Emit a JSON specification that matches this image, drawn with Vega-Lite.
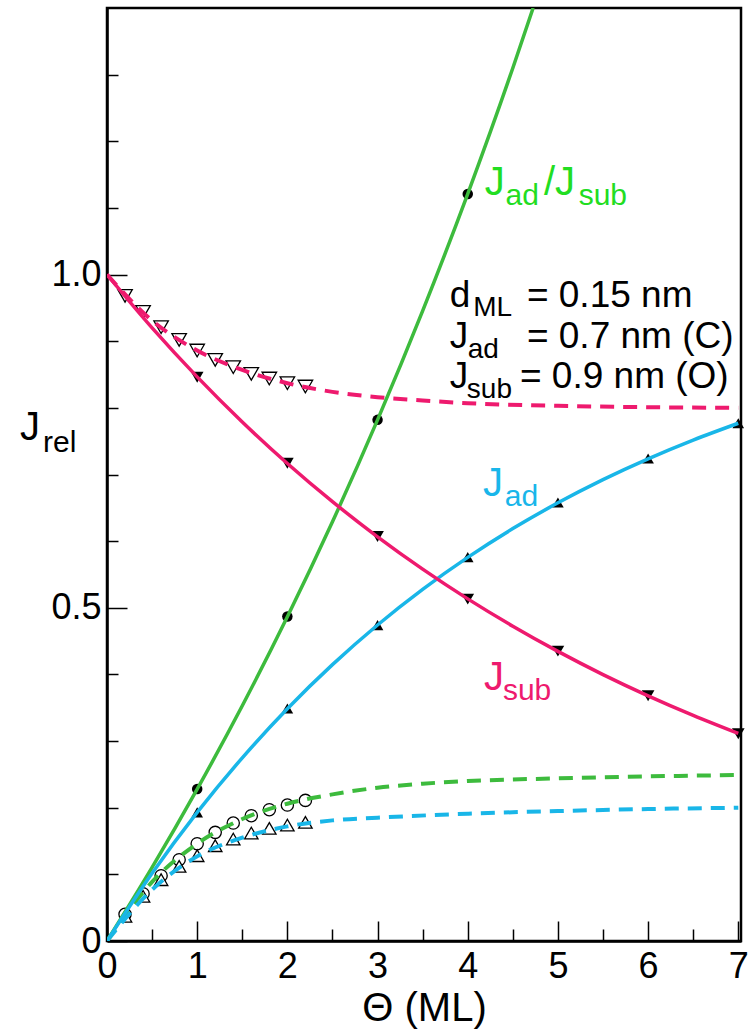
{
  "$schema": "https://vega.github.io/schema/vega-lite/v6.json",
  "width": 634,
  "height": 933,
  "autosize": {"type": "none"},
  "padding": {"left": 107, "top": 8, "right": 13, "bottom": 92},
  "background": "white",
  "config": {"view": {"stroke": "black", "strokeWidth": 2.5}, "font": "Liberation Sans"},
  "resolve": {"axis": {"x": "independent", "y": "independent"}, "scale": {"color": "independent", "size": "independent"}},
  "datasets": {
    "curves": [
      {"x": 0, "y": 0, "c": "ratio"}, {"x": 0.5, "y": 0.1104, "c": "ratio"}, {"x": 1, "y": 0.2279, "c": "ratio"}, {"x": 1.5, "y": 0.353, "c": "ratio"}, {"x": 2, "y": 0.4865, "c": "ratio"}, {"x": 2.5, "y": 0.6291, "c": "ratio"}, {"x": 3, "y": 0.7819, "c": "ratio"}, {"x": 3.5, "y": 0.9455, "c": "ratio"}, {"x": 4, "y": 1.1212, "c": "ratio"}, {"x": 4.5, "y": 1.31, "c": "ratio"}, {"x": 4.725, "y": 1.4, "c": "ratio"},
      {"x": 0, "y": 0, "c": "ad"}, {"x": 0.5, "y": 0.1016, "c": "ad"}, {"x": 1, "y": 0.1929, "c": "ad"}, {"x": 1.5, "y": 0.2749, "c": "ad"}, {"x": 2, "y": 0.3486, "c": "ad"}, {"x": 2.5, "y": 0.4147, "c": "ad"}, {"x": 3, "y": 0.4742, "c": "ad"}, {"x": 3.5, "y": 0.5276, "c": "ad"}, {"x": 4, "y": 0.5756, "c": "ad"}, {"x": 4.5, "y": 0.6188, "c": "ad"}, {"x": 5, "y": 0.6575, "c": "ad"}, {"x": 5.5, "y": 0.6923, "c": "ad"}, {"x": 6, "y": 0.7235, "c": "ad"}, {"x": 6.5, "y": 0.7516, "c": "ad"}, {"x": 7, "y": 0.7769, "c": "ad"},
      {"x": 0, "y": 1, "c": "sub"}, {"x": 0.5, "y": 0.92, "c": "sub"}, {"x": 1, "y": 0.8465, "c": "sub"}, {"x": 1.5, "y": 0.7788, "c": "sub"}, {"x": 2, "y": 0.7165, "c": "sub"}, {"x": 2.5, "y": 0.6592, "c": "sub"}, {"x": 3, "y": 0.6065, "c": "sub"}, {"x": 3.5, "y": 0.558, "c": "sub"}, {"x": 4, "y": 0.5134, "c": "sub"}, {"x": 4.5, "y": 0.4724, "c": "sub"}, {"x": 5, "y": 0.4346, "c": "sub"}, {"x": 5.5, "y": 0.3998, "c": "sub"}, {"x": 6, "y": 0.3679, "c": "sub"}, {"x": 6.5, "y": 0.3385, "c": "sub"}, {"x": 7, "y": 0.3114, "c": "sub"}
    ],
    "dashed": [
      {"x": 0, "y": 1, "c": "sub"}, {"x": 0.5, "y": 0.931, "c": "sub"}, {"x": 1, "y": 0.886, "c": "sub"}, {"x": 1.5, "y": 0.857, "c": "sub"}, {"x": 2, "y": 0.837, "c": "sub"}, {"x": 2.5, "y": 0.824, "c": "sub"}, {"x": 3, "y": 0.816, "c": "sub"}, {"x": 3.5, "y": 0.811, "c": "sub"}, {"x": 4, "y": 0.807, "c": "sub"}, {"x": 5, "y": 0.803, "c": "sub"}, {"x": 6, "y": 0.801, "c": "sub"}, {"x": 7, "y": 0.8, "c": "sub"},
      {"x": 0, "y": 0, "c": "ratio"}, {"x": 0.5, "y": 0.0888, "c": "ratio"}, {"x": 1, "y": 0.146, "c": "ratio"}, {"x": 1.5, "y": 0.183, "c": "ratio"}, {"x": 2, "y": 0.206, "c": "ratio"}, {"x": 2.5, "y": 0.22, "c": "ratio"}, {"x": 3, "y": 0.23, "c": "ratio"}, {"x": 3.5, "y": 0.236, "c": "ratio"}, {"x": 4, "y": 0.24, "c": "ratio"}, {"x": 5, "y": 0.244, "c": "ratio"}, {"x": 6, "y": 0.247, "c": "ratio"}, {"x": 7, "y": 0.249, "c": "ratio"},
      {"x": 0, "y": 0, "c": "ad"}, {"x": 0.5, "y": 0.077, "c": "ad"}, {"x": 1, "y": 0.127, "c": "ad"}, {"x": 1.5, "y": 0.155, "c": "ad"}, {"x": 2, "y": 0.172, "c": "ad"}, {"x": 2.5, "y": 0.181, "c": "ad"}, {"x": 3, "y": 0.185, "c": "ad"}, {"x": 4, "y": 0.191, "c": "ad"}, {"x": 5, "y": 0.195, "c": "ad"}, {"x": 6, "y": 0.198, "c": "ad"}, {"x": 7, "y": 0.2, "c": "ad"}
    ],
    "filled": [
      {"x": 1, "y": 0.228, "c": "ratio"}, {"x": 2, "y": 0.487, "c": "ratio"}, {"x": 3, "y": 0.782, "c": "ratio"}, {"x": 4, "y": 1.121, "c": "ratio"},
      {"x": 1, "y": 0.193, "c": "ad"}, {"x": 2, "y": 0.349, "c": "ad"}, {"x": 3, "y": 0.474, "c": "ad"}, {"x": 4, "y": 0.576, "c": "ad"}, {"x": 5, "y": 0.658, "c": "ad"}, {"x": 6, "y": 0.724, "c": "ad"}, {"x": 7, "y": 0.777, "c": "ad"},
      {"x": 1, "y": 0.846, "c": "sub"}, {"x": 2, "y": 0.717, "c": "sub"}, {"x": 3, "y": 0.607, "c": "sub"}, {"x": 4, "y": 0.513, "c": "sub"}, {"x": 5, "y": 0.435, "c": "sub"}, {"x": 6, "y": 0.368, "c": "sub"}, {"x": 7, "y": 0.311, "c": "sub"}
    ],
    "open": [
      {"x": 0.2, "y": 0.04, "c": "ratio"}, {"x": 0.4, "y": 0.071, "c": "ratio"}, {"x": 0.6, "y": 0.098, "c": "ratio"}, {"x": 0.8, "y": 0.122, "c": "ratio"}, {"x": 1.0, "y": 0.146, "c": "ratio"}, {"x": 1.2, "y": 0.163, "c": "ratio"}, {"x": 1.4, "y": 0.177, "c": "ratio"}, {"x": 1.6, "y": 0.188, "c": "ratio"}, {"x": 1.8, "y": 0.197, "c": "ratio"}, {"x": 2.0, "y": 0.204, "c": "ratio"}, {"x": 2.2, "y": 0.211, "c": "ratio"},
      {"x": 0.2, "y": 0.037, "c": "ad"}, {"x": 0.4, "y": 0.067, "c": "ad"}, {"x": 0.6, "y": 0.092, "c": "ad"}, {"x": 0.8, "y": 0.112, "c": "ad"}, {"x": 1.0, "y": 0.128, "c": "ad"}, {"x": 1.2, "y": 0.143, "c": "ad"}, {"x": 1.4, "y": 0.153, "c": "ad"}, {"x": 1.6, "y": 0.162, "c": "ad"}, {"x": 1.8, "y": 0.169, "c": "ad"}, {"x": 2.0, "y": 0.174, "c": "ad"}, {"x": 2.2, "y": 0.178, "c": "ad"},
      {"x": 0.2, "y": 0.968, "c": "sub"}, {"x": 0.4, "y": 0.944, "c": "sub"}, {"x": 0.6, "y": 0.921, "c": "sub"}, {"x": 0.8, "y": 0.902, "c": "sub"}, {"x": 1.0, "y": 0.886, "c": "sub"}, {"x": 1.2, "y": 0.872, "c": "sub"}, {"x": 1.4, "y": 0.861, "c": "sub"}, {"x": 1.6, "y": 0.851, "c": "sub"}, {"x": 1.8, "y": 0.844, "c": "sub"}, {"x": 2.0, "y": 0.837, "c": "sub"}, {"x": 2.2, "y": 0.832, "c": "sub"}
    ],
    "bigMain": [
      {"x": 4.19, "y": 1.12, "t": "J", "g": "g"}, {"x": 4.845, "y": 1.12, "t": "/J", "g": "g"},
      {"x": 4.17, "y": 0.667, "t": "J", "g": "c"},
      {"x": 4.18, "y": 0.377, "t": "J", "g": "m"},
      {"x": -0.965, "y": 0.752, "t": "J", "g": "k"}
    ],
    "bigSub": [
      {"x": 4.42, "y": 1.105, "t": "ad", "g": "g"}, {"x": 5.23, "y": 1.105, "t": "sub", "g": "g"},
      {"x": 4.41, "y": 0.653, "t": "ad", "g": "c"},
      {"x": 4.39, "y": 0.362, "t": "sub", "g": "m"},
      {"x": -0.71, "y": 0.734, "t": "rel", "g": "k"}
    ],
    "blkMain": [
      {"x": 3.8, "y": 0.952, "t": "d"}, {"x": 4.656, "y": 0.952, "t": "= 0.15 nm"},
      {"x": 3.8, "y": 0.89, "t": "J"}, {"x": 4.656, "y": 0.89, "t": "= 0.7 nm (C)"},
      {"x": 3.8, "y": 0.83, "t": "J"}, {"x": 4.579, "y": 0.83, "t": "= 0.9 nm (O)"}
    ],
    "blkSub": [
      {"x": 4.06, "y": 0.938, "t": "ML"},
      {"x": 4.0, "y": 0.875, "t": "ad"},
      {"x": 3.99, "y": 0.815, "t": "sub"}
    ]
  },
  "layer": [
    {
      "data": {"name": "open"},
      "mark": {"type": "point", "filled": true, "fill": "white", "stroke": "black", "strokeWidth": 1.3, "opacity": 1},
      "encoding": {
        "x": {"field": "x", "type": "quantitative", "scale": {"domain": [0, 7.03], "nice": false, "zero": false},
          "axis": {"orient": "bottom", "values": [0, 1, 2, 3, 4, 5, 6, 7], "format": "d", "tickSize": -20, "tickWidth": 1.5, "tickColor": "black", "domainColor": "black", "domainWidth": 2.5, "grid": false, "labelFont": "Liberation Sans", "labelFontSize": 36, "labelColor": "black", "labelPadding": 28, "labelFlush": false, "labelOverlap": false, "labelBound": false, "title": "Θ (ML)", "titleFont": "Liberation Sans", "titleFontSize": 40, "titleFontWeight": "normal", "titleColor": "black", "titlePadding": 4}},
        "y": {"field": "y", "type": "quantitative", "scale": {"domain": [0, 1.4], "nice": false, "zero": false},
          "axis": {"orient": "left", "values": [0, 0.5, 1.0], "labelExpr": "datum.value == 0 ? '0' : format(datum.value, '.1f')", "tickSize": -20, "tickWidth": 1.5, "tickColor": "black", "domainColor": "black", "domainWidth": 2.5, "grid": false, "labelFont": "Liberation Sans", "labelFontSize": 36, "labelColor": "black", "labelPadding": 26, "labelOverlap": false, "labelBound": false, "labelFlush": false, "title": null}},
        "shape": {"field": "c", "type": "nominal", "scale": {"domain": ["ratio", "ad", "sub"], "range": ["circle", "triangle-up", "triangle-down"]}, "legend": null},
        "size": {"field": "c", "type": "nominal", "scale": {"domain": ["ratio", "ad", "sub"], "range": [150, 210, 210]}, "legend": null}
      }
    },
    {
      "data": {"name": "filled"},
      "mark": {"type": "point", "filled": true, "color": "black", "opacity": 1},
      "encoding": {
        "x": {"field": "x", "type": "quantitative",
          "axis": {"orient": "bottom", "values": [0.5, 1.5, 2.5, 3.5, 4.5, 5.5, 6.5], "tickSize": -12, "tickWidth": 1.5, "tickColor": "black", "domain": false, "labels": false, "grid": false, "title": null}},
        "y": {"field": "y", "type": "quantitative",
          "axis": {"orient": "left", "values": [0.1, 0.2, 0.3, 0.4, 0.6, 0.7, 0.8, 0.9, 1.1, 1.2, 1.3], "tickSize": -11, "tickWidth": 1.5, "tickColor": "black", "domain": false, "labels": false, "grid": false, "title": null}},
        "shape": {"field": "c", "type": "nominal", "legend": null},
        "size": {"field": "c", "type": "nominal", "scale": {"domain": ["ratio", "ad", "sub"], "range": [110, 160, 160]}, "legend": null}
      }
    },
    {
      "data": {"name": "dashed"},
      "mark": {"type": "line", "strokeWidth": 4, "strokeDash": [14, 9], "interpolate": "monotone", "clip": true},
      "encoding": {
        "x": {"field": "x", "type": "quantitative", "axis": null},
        "y": {"field": "y", "type": "quantitative", "axis": null},
        "color": {"field": "c", "type": "nominal", "scale": {"domain": ["ratio", "ad", "sub"], "range": ["#3dbb3d", "#19b6e8", "#ee1a6e"]}, "legend": null},
        "detail": {"field": "c"}
      }
    },
    {
      "data": {"name": "curves"},
      "mark": {"type": "line", "strokeWidth": 3.5, "interpolate": "monotone", "clip": true},
      "encoding": {
        "x": {"field": "x", "type": "quantitative", "axis": null},
        "y": {"field": "y", "type": "quantitative", "axis": null},
        "color": {"field": "c", "type": "nominal", "scale": {"domain": ["ratio", "ad", "sub"], "range": ["#3dbb3d", "#19b6e8", "#ee1a6e"]}, "legend": null},
        "detail": {"field": "c"}
      }
    },
    {
      "data": {"name": "bigMain"},
      "mark": {"type": "text", "align": "left", "baseline": "alphabetic", "fontSize": 40, "font": "Liberation Sans"},
      "encoding": {
        "x": {"field": "x", "type": "quantitative", "axis": null},
        "y": {"field": "y", "type": "quantitative", "axis": null},
        "text": {"field": "t"},
        "color": {"field": "g", "type": "nominal", "scale": {"domain": ["g", "c", "m", "k"], "range": ["#22dd22", "#19b6ea", "#ee1a6e", "#000000"]}, "legend": null}
      }
    },
    {
      "data": {"name": "bigSub"},
      "mark": {"type": "text", "align": "left", "baseline": "alphabetic", "fontSize": 30, "font": "Liberation Sans"},
      "encoding": {
        "x": {"field": "x", "type": "quantitative", "axis": null},
        "y": {"field": "y", "type": "quantitative", "axis": null},
        "text": {"field": "t"},
        "color": {"field": "g", "type": "nominal", "scale": {"domain": ["g", "c", "m", "k"], "range": ["#22dd22", "#19b6ea", "#ee1a6e", "#000000"]}, "legend": null}
      }
    },
    {
      "data": {"name": "blkMain"},
      "mark": {"type": "text", "align": "left", "baseline": "alphabetic", "fontSize": 37, "font": "Liberation Sans", "color": "black"},
      "encoding": {
        "x": {"field": "x", "type": "quantitative", "axis": null},
        "y": {"field": "y", "type": "quantitative", "axis": null},
        "text": {"field": "t"}
      }
    },
    {
      "data": {"name": "blkSub"},
      "mark": {"type": "text", "align": "left", "baseline": "alphabetic", "fontSize": 28, "font": "Liberation Sans", "color": "black"},
      "encoding": {
        "x": {"field": "x", "type": "quantitative", "axis": null},
        "y": {"field": "y", "type": "quantitative", "axis": null},
        "text": {"field": "t"}
      }
    }
  ]
}
